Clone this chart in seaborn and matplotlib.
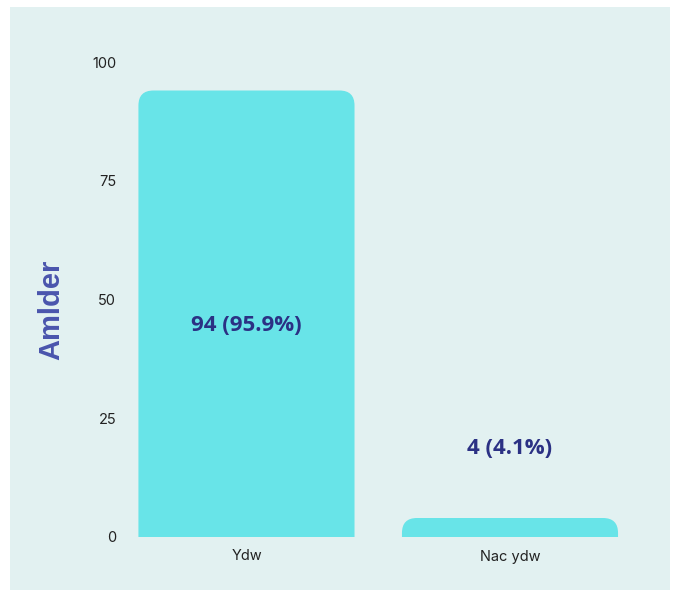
import matplotlib
matplotlib.use("Agg")
import matplotlib.pyplot as plt
import seaborn as sns
import pandas as pd
from matplotlib.patches import FancyBboxPatch, Rectangle

categories = ["Ydw", "Nac ydw"]
counts = [94, 4]
percents = [95.9, 4.1]

panel_col = "#e2f1f1"
bar_col = "#68e4e8"
label_col = "#2b3184"
ylab_col = "#4a55ad"

sns.set_theme(style="white")
plt.rcParams["font.family"] = ["Inter", "DejaVu Sans"]

fig = plt.figure(figsize=(6.8, 5.92), dpi=100)
fig.patch.set_facecolor("white")
fig.patches.append(Rectangle((10 / 680, 2 / 592), 660 / 680, 583 / 592,
                             transform=fig.transFigure, facecolor=panel_col,
                             edgecolor="none", zorder=-10))

ax = fig.add_axes([130 / 680, 55 / 592, 497 / 680, 475 / 592])
ax.set_facecolor("none")
ax.set_zorder(5)

df = pd.DataFrame({"cat": categories, "n": counts})
sns.barplot(data=df, x="cat", y="n", color=bar_col, width=0.82, ax=ax)

ax.set_xlim(-0.442, 1.444)
ax.set_ylim(0, 100)

# swap square bars for rounded-top ones
px_x = 263.5
px_y = 4.75
r_px = 15
rx = r_px / px_x
ry = r_px / px_y
for p in list(ax.patches):
    x0, w, h = p.get_x(), p.get_width(), p.get_height()
    p.remove()
    box = FancyBboxPatch((x0, -ry), w, h + ry,
                         boxstyle=f"round,pad=0,rounding_size={rx}",
                         mutation_aspect=ry / rx, facecolor=bar_col,
                         edgecolor="none", zorder=2)
    ax.add_patch(box)

for i, (n, pc) in enumerate(zip(counts, percents)):
    txt = f"{n} ({pc}%)"
    y = n / 2 - 2.4 if n > 20 else n + 14.7
    ax.text(i, y, txt, ha="center", va="center", fontsize=16,
            fontweight="bold", color=label_col,
            family=["Open Sans", "DejaVu Sans"], zorder=3)

ax.set_yticks([0, 25, 50, 75, 100])
ax.tick_params(axis="both", length=0, labelsize=10.5, colors="#222222")
ax.tick_params(axis="x", pad=9)
ax.tick_params(axis="y", pad=10)
ax.set_xlabel("")
ax.set_ylabel("Amlder", fontsize=21, fontweight="bold", color=ylab_col,
              family=["Liberation Sans", "DejaVu Sans"])
ax.yaxis.set_label_coords(-0.131, 0.478)
sns.despine(ax=ax, left=True, bottom=True)
ax.grid(False)

fig.savefig("out.png", dpi=100, facecolor="white")
